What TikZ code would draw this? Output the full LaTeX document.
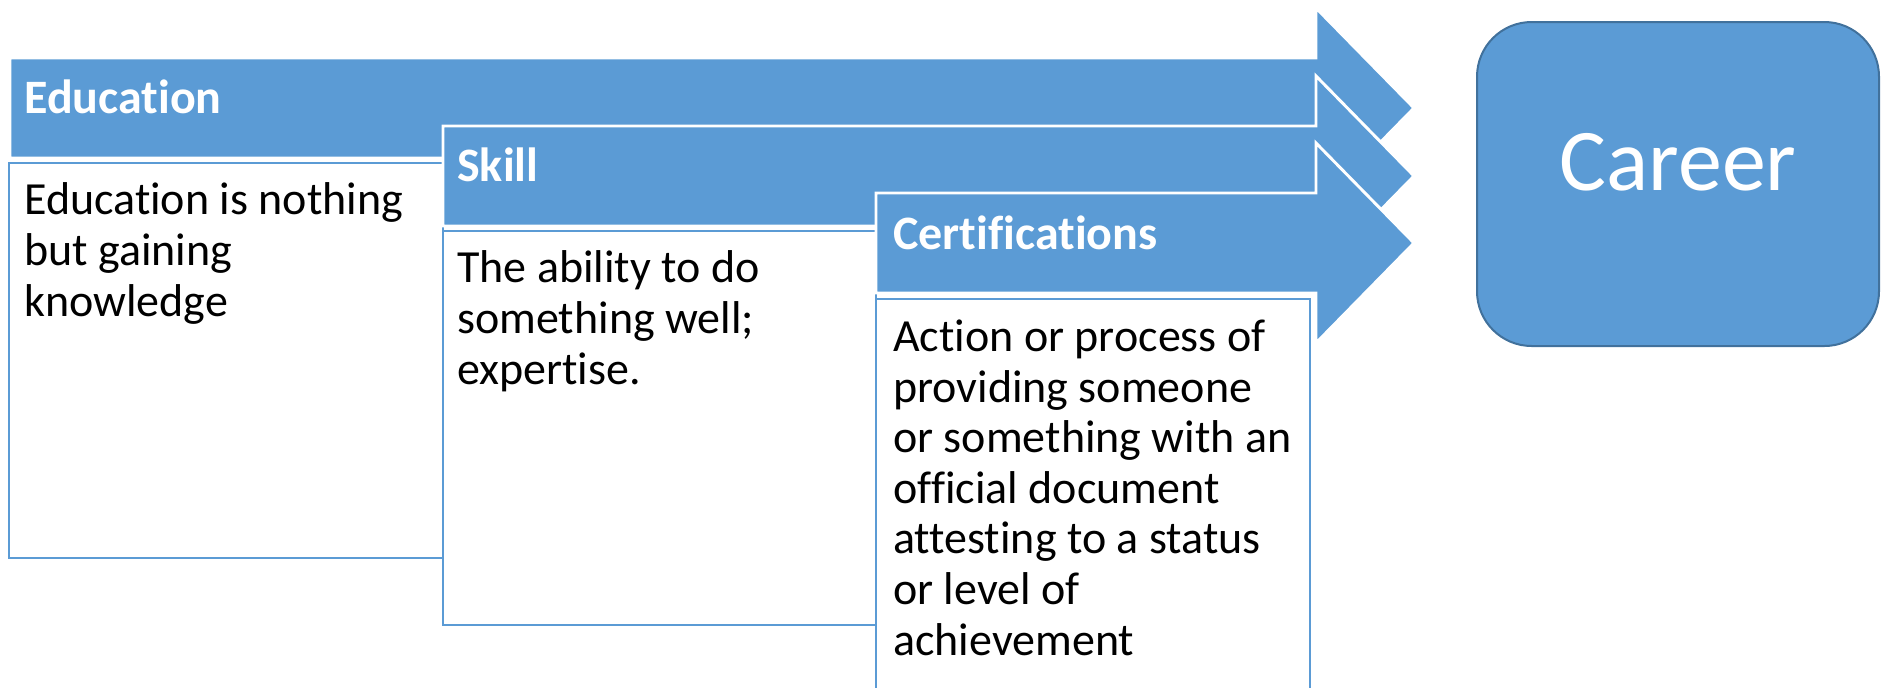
\documentclass[tikz,border=0pt]{standalone}
\usepackage{fontspec}
\setmainfont{Carlito}[Ligatures={NoCommon}]
\definecolor{officeblue}{HTML}{5B9BD5}
\definecolor{careerline}{HTML}{41719C}
\tikzset{
  arrowbody/.style={fill=officeblue, draw=white, line width=2.2pt, line join=miter},
  textbox/.style={fill=white, draw=officeblue, line width=1.6pt},
  headlabel/.style={anchor=base west, inner sep=0pt, text=white, font=\fontsize{36}{40}\selectfont\bfseries},
  bodylabel/.style={anchor=base west, inner sep=0pt, text=black, align=left, font=\fontsize{34.5}{37.9}\selectfont},
  careerbox/.style={fill=officeblue, draw=careerline, line width=1.5pt, rounded corners=41pt},
}
\newcommand{\bigarrowshape}[2]{%
  \draw[arrowbody] (#1,#2-50) -- (1316,#2-50) -- (1316,#2-100) -- (1414,#2)
    -- (1316,#2+100) -- (1316,#2+50) -- (#1,#2+50) -- cycle;}
\begin{document}
\begin{tikzpicture}[x=0.75pt, y=-0.75pt]
  \useasboundingbox (0,0) rectangle (1889,687);
  \clip (0,0) rectangle (1889,687);
  % Education
  \bigarrowshape{10}{108}
  \draw[textbox] (9,163) rectangle (443,558);
  \node[headlabel] (eduhead) at (24,113) {Education};
  \node[bodylabel] (edutext) at (24,316) {Education is nothing\\but gaining\\knowledge};
  % Skill
  \bigarrowshape{443}{176}
  \draw[textbox] (443,231) rectangle (876,625);
  \node[headlabel] (skillhead) at (457,181) {Skill};
  \node[bodylabel] (skilltext) at (457,384) {The ability to do\\something well;\\expertise.};
  % Certifications
  \bigarrowshape{876}{243}
  \draw[textbox] (876,299) rectangle (1310,720);
  \node[headlabel] (certhead) at (893,249) {Certifications};
  \node[bodylabel] (certtext) at (893,655) {Action or process of\\providing someone\\or something with an\\official document\\attesting to a status\\or level of\\achievement};
  % Career
  \draw[careerbox] (1477,22) rectangle (1879,346);
  \node[anchor=base, inner sep=0pt, text=white, font=\fontsize{66}{70}\selectfont] (career) at (1678,190) {Career};
\end{tikzpicture}
\end{document}
